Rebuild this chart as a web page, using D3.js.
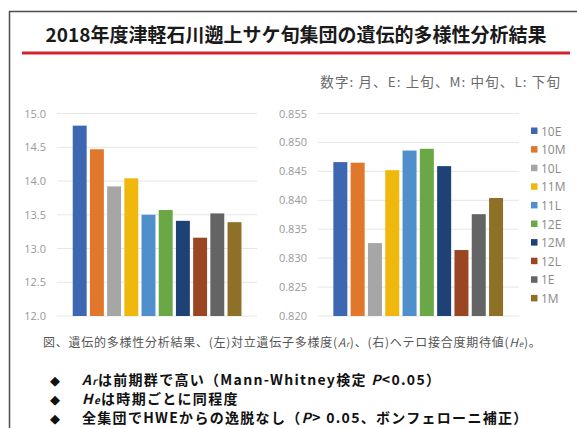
<!DOCTYPE html>
<html><head><meta charset="utf-8">
<script src="https://cdn.jsdelivr.net/npm/d3@7"></script>
<style>body{margin:0;background:#fff}svg{display:block}</style>
</head><body>
<svg id="c" width="577" height="428"></svg>
<script>
const categories = ["10E","10M","10L","11M","11L","12E","12M","12L","1E","1M"];
const arValues = [14.82, 14.47, 13.92, 14.04, 13.50, 13.57, 13.41, 13.16, 13.52, 13.39];
const heValues = [0.8466, 0.8465, 0.8326, 0.8452, 0.8486, 0.8489, 0.8459, 0.8314, 0.8376, 0.8404];
const arTicks = [12.0, 12.5, 13.0, 13.5, 14.0, 14.5, 15.0];
const heTicks = [0.820, 0.825, 0.830, 0.835, 0.840, 0.845, 0.850, 0.855];
const colors = ["#3d67b1","#e0772b","#a6a6a6","#f0b70d","#4f8fcc","#6aa745","#1f4276","#9b4622","#646464","#8e7027"];
const titleText = "2018年度津軽石川遡上サケ旬集団の遺伝的多様性分析結果";
const noteText = "数字: 月、E: 上旬、M: 中旬、L: 下旬";

const svg = d3.select("#c");
const jp = "'Noto Sans CJK JP','Noto Sans',sans-serif";
const lat = "'Open Sans','Noto Sans',sans-serif";

// frame
svg.append("line").attr("x1",9).attr("x2",577).attr("y1",11.5).attr("y2",11.5).attr("stroke","#4d4d4d").attr("stroke-width",1.5);
svg.append("line").attr("x1",9.5).attr("x2",9.5).attr("y1",11).attr("y2",428).attr("stroke","#4d4d4d").attr("stroke-width",1.5);

// title
svg.append("text").attr("x",296).attr("y",42).attr("text-anchor","middle")
  .attr("font-family",jp).attr("font-weight","bold").attr("font-size",19).attr("fill","#1a1a1a").text(titleText);
svg.append("line").attr("x1",22).attr("x2",570).attr("y1",53).attr("y2",53).attr("stroke","#d9202a").attr("stroke-width",3);

svg.append("text").attr("x",561).attr("y",87).attr("text-anchor","end")
  .attr("font-family",jp).attr("font-size",13.5).attr("letter-spacing",1.1).attr("fill","#6a6a6a").text(noteText);

function chart(values, ticks, domain, gx0, gx1, bx0, bx1, fmt, labelX){
  const y = d3.scaleLinear().domain(domain).range([316, 113.5]);
  const x = d3.scaleBand().domain(categories).range([bx0, bx1]).paddingInner(0.19).paddingOuter(0.095);
  const g = svg.append("g");
  g.selectAll(".grid").data(ticks).join("line")
    .attr("x1",gx0).attr("x2",gx1).attr("y1",d=>y(d)).attr("y2",d=>y(d))
    .attr("stroke","#e6e6e6").attr("stroke-width",1);
  const ax = g.append("g").attr("transform",`translate(${labelX},0)`)
    .call(d3.axisLeft(y).tickValues(ticks).tickFormat(d3.format(fmt)).tickSize(0).tickPadding(0));
  ax.select(".domain").remove();
  ax.selectAll("text").attr("font-family",lat).attr("font-size",11).attr("fill","#999");
  g.selectAll(".bar").data(values).join("rect")
    .attr("x",(d,i)=>x(categories[i])).attr("width",x.bandwidth())
    .attr("y",d=>y(d)).attr("height",d=>316-y(d))
    .attr("fill",(d,i)=>colors[i]);
}
chart(arValues, arTicks, [12,15], 57, 257, 71.1, 243.1, ".1f", 46);
chart(heValues, heTicks, [0.82,0.855], 318, 519, 331.7, 504.7, ".3f", 307);

// legend
const lg = svg.append("g");
categories.forEach((c,i)=>{
  const yy = 131 + i*18.6;
  lg.append("rect").attr("x",531).attr("y",yy-3.5).attr("width",6.5).attr("height",6.5).attr("fill",colors[i]);
  lg.append("text").attr("x",541).attr("y",yy+4.5).attr("font-family",lat).attr("font-size",12).attr("fill","#8a8a8a").text(c);
});

// caption
const cap = svg.append("text").attr("x",43).attr("y",347).attr("font-family",jp).attr("font-size",12)
  .attr("letter-spacing",0.75).attr("fill","#555");
cap.append("tspan").text("図、遺伝的多様性分析結果、(左)対立遺伝子多様度(");
cap.append("tspan").attr("font-style","italic").text("A");
cap.append("tspan").attr("font-style","italic").attr("font-size",8).text("r");
cap.append("tspan").text(")、(右)ヘテロ接合度期待値(");
cap.append("tspan").attr("font-style","italic").text("H");
cap.append("tspan").attr("font-style","italic").attr("font-size",8).text("e");
cap.append("tspan").text(")。");

// bullets
const bl = [
  [{t:"A",i:1},{t:"r",i:1,s:1},{t:"は前期群で高い（Mann-Whitney検定 "},{t:"P",i:1},{t:"<0.05）"}],
  [{t:"H",i:1},{t:"e",i:1,s:1},{t:"は時期ごとに同程度"}],
  [{t:"全集団でHWEからの逸脱なし（"},{t:"P",i:1},{t:"> 0.05、ボンフェローニ補正）"}]
];
const by = [380, 399, 418];
bl.forEach((parts,k)=>{
  svg.append("text").attr("x",55).attr("y",by[k]+4.5).attr("text-anchor","middle")
    .attr("font-family","'DejaVu Sans',sans-serif").attr("font-size",13).attr("fill","#111").text("◆");
  const t = svg.append("text").attr("x",82).attr("y",by[k]+5).attr("font-family",jp)
    .attr("font-weight","bold").attr("font-size",14).attr("letter-spacing",1.3).attr("fill","#111");
  parts.forEach(p=>{
    const ts = t.append("tspan").text(p.t);
    if(p.i) ts.attr("font-style","italic");
    if(p.s) ts.attr("font-size",10);
  });
});
</script>
</body></html>
